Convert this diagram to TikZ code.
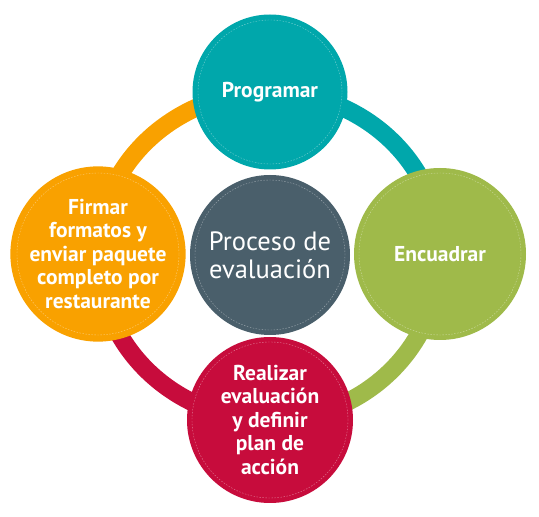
\documentclass[tikz,border=0pt]{standalone}
\usepackage{fontspec}
\setmainfont{PT Sans}
\usepackage{tikz}
\usetikzlibrary{%
  backgrounds,% wg. on background layer
  shapes.geometric%
}
\definecolor{tealc}{HTML}{00A7AB}
\definecolor{greenc}{HTML}{9FBA4A}
\definecolor{redc}{HTML}{C70C3C}
\definecolor{orangec}{HTML}{F9A100}
\definecolor{slatec}{HTML}{4A5F6B}

\begin{document}
\begin{tikzpicture}[x=1pt, y=1pt,
    phase/.style={circle, inner sep=0pt, text=white, align=center,
      font=\bfseries\fontsize{21.5}{23.5}\selectfont},
    ring/.style={line width=18pt},
    stitch/.style={white, opacity=0.45, dashed, line width=0.4pt, dash pattern=on 1.5pt off 1.5pt}]
    \useasboundingbox (0,0) rectangle (539,517);
    %centre
    \node[phase, fill=slatec, minimum size=160pt, font=\fontsize{26.5}{28}\selectfont] (proceso) at (270,262) {Proceso de\\evaluación};
    %steps
    \node[phase, fill=tealc, minimum size=155pt] (programar) at (270,425) {Programar};
    \node[phase, fill=greenc, minimum size=172pt] (encuadrar) at (440,263) {Encuadrar};
    \node[phase, fill=redc, minimum size=166pt] (realizar) at (270,97) {Realizar\\evaluación\\y definir\\plan de\\acción};
    \node[phase, fill=orangec, minimum size=172pt] (firmar) at (98,263) {Firmar\\formatos y\\enviar paquete\\completo por\\restaurante};

    %dashed seams
    \foreach \n/\r in {proceso/75, programar/72, encuadrar/81, realizar/78, firmar/81}
      \draw[stitch] (\n.center) circle[radius=\r];

    %ring
    \begin{scope}[on background layer]
      \draw[ring, tealc] (programar.center) to[out=0, in=90] (encuadrar.center);
      \draw[ring, greenc] (encuadrar.center) to[out=-90, in=0] (realizar.center);
      \draw[ring, redc] (realizar.center) to[out=180, in=-90] (firmar.center);
      \draw[ring, orangec] (firmar.center) to[out=90, in=180] (programar.center);
    \end{scope}
\end{tikzpicture}
\end{document}
